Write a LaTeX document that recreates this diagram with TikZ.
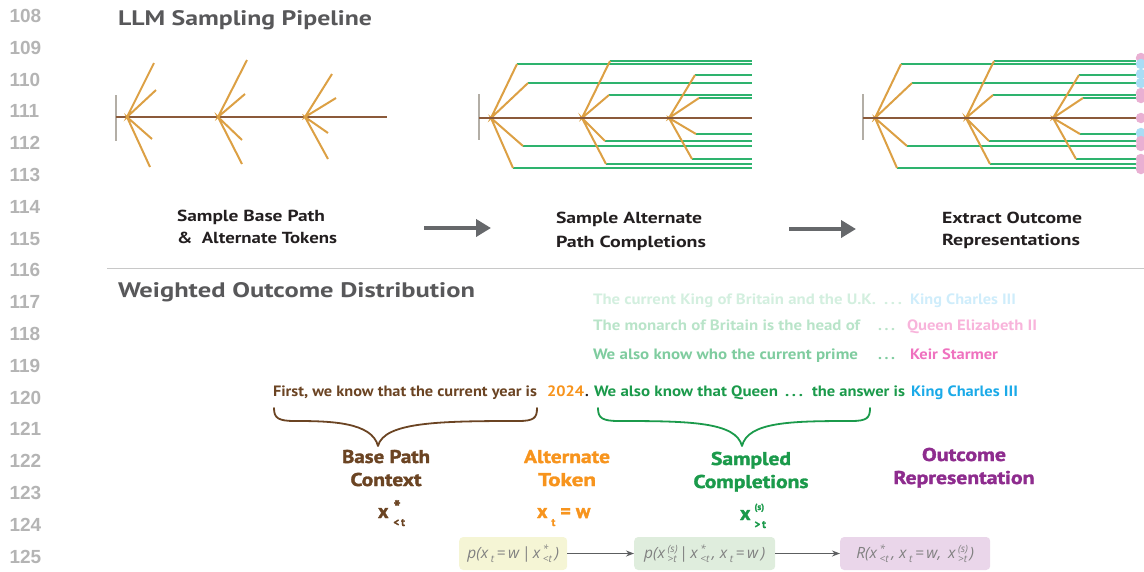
\documentclass[tikz,border=0pt]{standalone}
\usepackage{fontspec}
\usepackage{graphicx}
\setmainfont{PT Sans}
\newfontfamily\numfont{Liberation Sans}
\newfontfamily\boxfont{Open Sans}
\newfontfamily\heavyfont{PT Sans}[BoldFeatures={FakeBold=1.6}]
\usetikzlibrary{arrows.meta}
\definecolor{numgray}{HTML}{B4B4B4}
\definecolor{titlegray}{HTML}{58585A}
\definecolor{labdark}{HTML}{231F20}
\definecolor{arrgray}{HTML}{66686B}
\definecolor{sepgray}{HTML}{C8C8C8}
\definecolor{barg}{HTML}{B3AEA6}
\definecolor{trunk}{HTML}{8B5A3A}
\definecolor{branch}{HTML}{DCA044}
\definecolor{compl}{HTML}{2EB36E}
\definecolor{dotpink}{HTML}{E9B0D3}
\definecolor{dotblue}{HTML}{A9DDF5}
\definecolor{cbrown}{HTML}{6B4423}
\definecolor{corange}{HTML}{F7941D}
\definecolor{cgreen}{HTML}{1B9A4B}
\definecolor{cblue}{HTML}{1BAAE8}
\definecolor{cpurple}{HTML}{8E2C8E}
\definecolor{fgA}{HTML}{D3EFDF}
\definecolor{fgB}{HTML}{B9E4C9}
\definecolor{fgC}{HTML}{7FCC9F}
\definecolor{fbA}{HTML}{CFEDFB}
\definecolor{fpB}{HTML}{F8B4DB}
\definecolor{fpC}{HTML}{EF72BF}
\definecolor{boxY}{HTML}{F5F5D5}
\definecolor{boxG}{HTML}{DFEDDD}
\definecolor{boxP}{HTML}{EAD6EA}
\definecolor{boxtext}{HTML}{808080}
\newcommand{\fitw}[2]{\resizebox{#1}{\height}{#2}}
\newcommand{\bsub}[1]{\raisebox{-4pt}{\fontsize{10}{10}\selectfont #1}}
\newcommand{\bsupsub}[2]{\raisebox{6pt}{\rlap{\fontsize{10}{10}\selectfont #1}}\raisebox{-4pt}{\fontsize{10}{10}\selectfont #2}}
\tikzset{
  txt/.style={inner sep=0pt, outer sep=0pt, anchor=base west},
  bodyfont/.style={font=\fontsize{15}{18}\selectfont\bfseries},
  labfont/.style={font=\fontsize{16}{19}\selectfont\bfseries, text=labdark},
  catfont/.style={font=\heavyfont\fontsize{18.5}{21}\selectfont\bfseries, inner sep=0pt, anchor=base},
  bigarrow/.style={draw=arrgray, line width=4.5pt, -{Triangle[length=15pt,width=17pt]}},
  smallarrow/.style={draw=arrgray!90!black, line width=1.1pt, -{Stealth[length=8pt,width=6pt]}},
  eqbox/.style={rounded corners=4pt, minimum height=33pt, inner sep=0pt, anchor=west, text=boxtext, font=\boxfont\itshape\fontsize{15.5}{17}\selectfont},
  trunkline/.style={draw=trunk, line width=2pt},
  barline/.style={draw=barg, line width=2pt},
  br/.style={draw=branch, line width=2pt},
  gr/.style={draw=compl, line width=2.1pt},
  dot/.style={circle, inner sep=0pt, minimum size=10.5pt},
  symfont/.style={font=\heavyfont\fontsize{20}{20}\selectfont\bfseries},
}
\begin{document}
\begin{tikzpicture}[x=1pt,y=-1pt]
\useasboundingbox (0,0) rectangle (1144,571);
% line numbers
\foreach \i in {0,...,17}{
  \pgfmathtruncatemacro{\num}{108+\i}
  \node[txt, text=numgray, font=\numfont\bfseries\fontsize{19}{19}\selectfont] (ln\i) at (9.5,{22.5+31.8*\i}) {\num};
}
% titles
\node[txt, text=titlegray, font=\fontsize{21}{24}\selectfont\bfseries] (title1) at (118,25) {\fitw{254pt}{LLM Sampling Pipeline}};
\node[txt, text=titlegray, font=\fontsize{21}{24}\selectfont\bfseries] (title2) at (118,297) {\fitw{357pt}{Weighted Outcome Distribution}};
\draw[sepgray, line width=1.3pt] (107,268.5) -- (1144,268.5);

% ---- tree 1
\coordinate (b1t) at (116,95); \coordinate (b1b) at (116,141);
\draw[barline] (b1t) -- (b1b);
\coordinate (t1s) at (116,117); \coordinate (t1e) at (387,117);
\draw[trunkline] (t1s) -- (t1e);
\foreach \nx/\ax/\ay/\bx/\by/\cx/\cy/\dx/\dy in {127/154/63/156/90/152/139/150/167, 218/247/60/245/94/242/140/242/164, 305/332/74/336/98/328/133/328/159}{
  \draw[br] (\ax,\ay) -- (\nx,117) -- (\bx,\by);
  \draw[br] (\cx,\cy) -- (\nx,117) -- (\dx,\dy);
}
% ---- tree 2 and 3
\foreach \sh/\nm in {0/m, 384/r}{
\begin{scope}[xshift=\sh pt]
  \draw[barline] (479,94) -- (479,140);
  \foreach \nx/\ax/\ay/\bx/\by/\cx/\cy/\dx/\dy in {491/517/64/528/83/523/146/513/168, 582/610/61/609/95/605/141/606/164, 669/695/75/699/98/696/134/692/159}{
    \draw[gr] (\ax,\ay) -- (752,\ay);
    \draw[gr] (\bx,\by) -- (752,\by);
    \draw[gr] (\cx,\cy) -- (752,\cy);
    \draw[gr] (\dx,\dy) -- (752,\dy);
    \draw[br] (\ax,\ay) -- (\nx,118) -- (\bx,\by);
    \draw[br] (\cx,\cy) -- (\nx,118) -- (\dx,\dy);
  }
  \draw[trunkline] (479,118) -- (752,118);
\end{scope}
}
% outcome dots
\foreach \y/\c [count=\k] in {58/dotpink, 64/dotblue, 74/dotblue, 83/dotblue, 93/dotpink, 98/dotpink, 118/dotpink, 133/dotblue, 141/dotpink, 146/dotpink, 159/dotpink, 164/dotpink, 169/dotpink}{
  \node[dot, fill=\c] (od\k) at (1141,\y) {};
}

% ---- stage labels
\node[txt, labfont] (l1a) at (177,221) {\fitw{148pt}{Sample Base Path}};
\node[txt, labfont] (l1b) at (177,243) {\fitw{160pt}{\&\ \ Alternate Tokens}};
\node[txt, labfont] (l2a) at (556,223) {\fitw{146pt}{Sample Alternate}};
\node[txt, labfont] (l2b) at (556,247) {\fitw{150pt}{Path Completions}};
\node[txt, labfont] (l3a) at (942,223) {\fitw{140pt}{Extract Outcome}};
\node[txt, labfont] (l3b) at (942,245) {\fitw{138pt}{Representations}};
\coordinate (a1s) at (424,228); \coordinate (a1e) at (491,228);
\coordinate (a2s) at (789,229); \coordinate (a2e) at (856,229);
\draw[bigarrow] (a1s) -- (a1e);
\draw[bigarrow] (a2s) -- (a2e);

% ---- faded alternatives
\node[txt, bodyfont, text=fgA] (f1a) at (593,304) {\fitw{283pt}{The current King of Britain and the U.K.}};
\node[txt, bodyfont, text=fgA] (f1b) at (884,304) {\fitw{18pt}{.\,.\,.}};
\node[txt, bodyfont, text=fbA] (f1c) at (910,304) {\fitw{106pt}{King Charles III}};
\node[txt, bodyfont, text=fgB] (f2a) at (593,330) {\fitw{267pt}{The monarch of Britain is the head of}};
\node[txt, bodyfont, text=fgB] (f2b) at (878,330) {\fitw{17pt}{.\,.\,.}};
\node[txt, bodyfont, text=fpB] (f2c) at (907,330) {\fitw{130pt}{Queen Elizabeth II}};
\node[txt, bodyfont, text=fgC] (f3a) at (593,359) {\fitw{265pt}{We also know who the current prime}};
\node[txt, bodyfont, text=fgC] (f3b) at (878,359) {\fitw{17pt}{.\,.\,.}};
\node[txt, bodyfont, text=fpC] (f3c) at (910,359) {\fitw{88pt}{Keir Starmer}};

% ---- main sentence
\node[txt, bodyfont, text=cbrown] (m1) at (273,396) {\fitw{264pt}{First, we know that the current year is}};
\node[txt, bodyfont, text=corange] (m2) at (547,396) {\fitw{37pt}{2024}};
\node[txt, bodyfont, text=labdark] (m3) at (585,396) {.};
\node[txt, bodyfont, text=cgreen] (m4) at (594,396) {\fitw{184pt}{We also know that Queen}};
\node[txt, bodyfont, text=cgreen] (m5) at (785,396) {\fitw{18pt}{.\,.\,.}};
\node[txt, bodyfont, text=cgreen] (m6) at (812,396) {\fitw{93pt}{the answer is}};
\node[txt, bodyfont, text=cblue] (m7) at (911,396) {\fitw{107pt}{King Charles III}};

% ---- braces
\draw[cbrown, line width=1.8pt, line cap=round, line join=round]
  (274,408) .. controls (274,418) and (278,421) .. (295,421)
  .. controls (330,421) and (372,422) .. (378,446)
  .. controls (384,422) and (440,421) .. (518,421)
  .. controls (534,421) and (537,418) .. (537,408);
\draw[cgreen, line width=1.8pt, line cap=round, line join=round]
  (598,408) .. controls (598,418) and (602,421) .. (619,421)
  .. controls (690,421) and (736,422) .. (742,446)
  .. controls (748,422) and (790,421) .. (851,421)
  .. controls (867,421) and (870,418) .. (870,408);

% ---- category labels
\node[catfont, text=cbrown] (c1a) at (386,463) {\fitw{88pt}{Base Path}};
\node[catfont, text=cbrown] (c1b) at (386,486) {\fitw{71pt}{Context}};
\node[catfont, text=corange] (c2a) at (567,463) {\fitw{86pt}{Alternate}};
\node[catfont, text=corange] (c2b) at (567,486) {\fitw{58pt}{Token}};
\node[catfont, text=cgreen] (c3a) at (751,465) {\fitw{80pt}{Sampled}};
\node[catfont, text=cgreen] (c3b) at (751,488) {\fitw{115pt}{Completions}};
\node[catfont, text=cpurple] (c4a) at (964,461) {\fitw{84pt}{Outcome}};
\node[catfont, text=cpurple] (c4b) at (964,484) {\fitw{141pt}{Representation}};

% ---- symbols
\node[txt, text=cbrown, symfont] (s1) at (378,518) {x\hspace{5pt}\raisebox{4pt}{\rlap{\fontsize{19}{19}\selectfont *}}\raisebox{-8pt}{\fontsize{11}{11}\selectfont <\,t}};
\node[txt, text=corange, symfont] (s2) at (537,518) {x\hspace{4pt}\raisebox{-8pt}{\fontsize{11}{11}\selectfont t}\hspace{5pt}= w};
\node[txt, text=cgreen, symfont] (s3) at (740,520) {x\hspace{4pt}\raisebox{10pt}{\rlap{\fontsize{9}{9}\selectfont (s)}}\raisebox{-8pt}{\fontsize{11}{11}\selectfont >\,t}};

% ---- equation boxes
\node[eqbox, fill=boxY, minimum width=108pt] (e1) at (459,553.5) {p(x\,\bsub{t}\,=\,w\,|\,x\,\bsupsub{*}{<t}\,)};
\node[eqbox, fill=boxG, minimum width=141pt] (e2) at (634,553.5) {p(x\,\bsupsub{(s)}{>t}\,|\,x\,\bsupsub{*}{<t}\,, x\,\bsub{t}\,=\,w\,)};
\node[eqbox, fill=boxP, minimum width=150pt] (e3) at (840,553.5) {R(x\,\bsupsub{*}{<t}\,, x\,\bsub{t}\,=\,w,\, x\,\bsupsub{(s)}{>t}\,)};
\draw[smallarrow] (e1.east) -- (e2.west);
\draw[smallarrow] (e2.east) -- (e3.west);
\end{tikzpicture}
\end{document}
